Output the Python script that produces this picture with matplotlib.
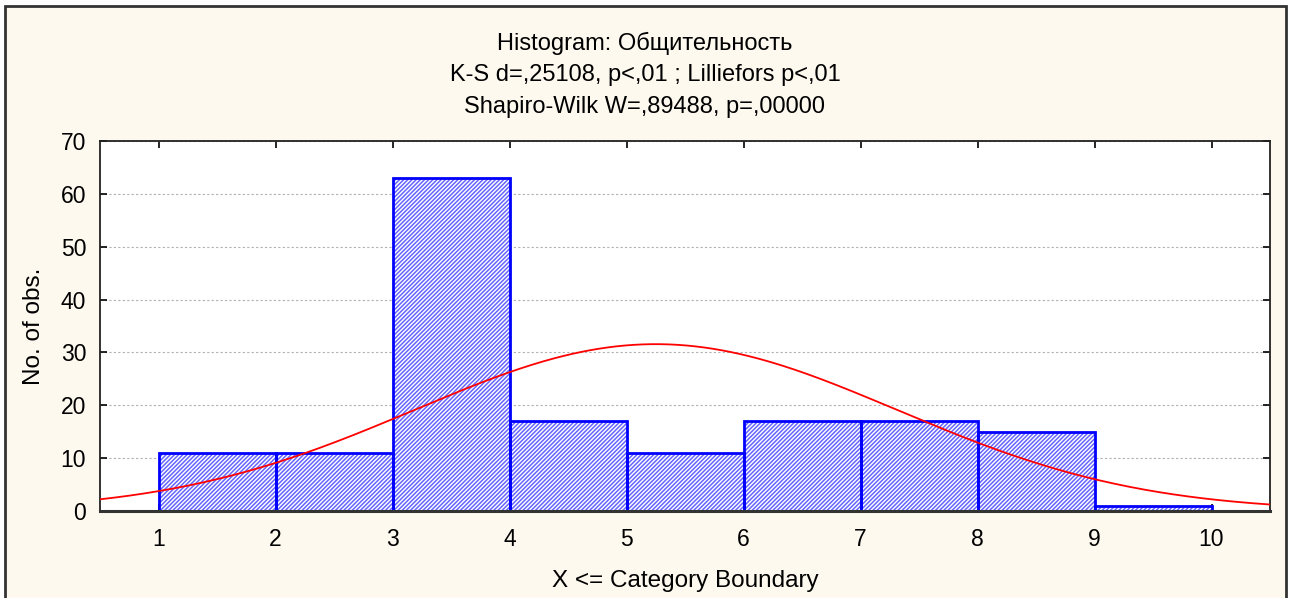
import numpy as np
import matplotlib
matplotlib.use("Agg")
import matplotlib.pyplot as plt
from matplotlib.patches import Rectangle

plt.rcParams['font.family'] = ['Liberation Sans', 'DejaVu Sans']
plt.rcParams['hatch.linewidth'] = 1.1

# Histogram data (bin edges 1..10, counts per bin)
bin_left = [1, 2, 3, 4, 5, 6, 7, 8, 9]
counts = [11, 11, 63, 17, 11, 17, 17, 15, 1]
x_ticks = [1, 2, 3, 4, 5, 6, 7, 8, 9, 10]
y_ticks = [0, 10, 20, 30, 40, 50, 60, 70]

# Fitted normal curve parameters
fit_mean = 5.25
fit_sd = 2.06

title_lines = [
    "Histogram: Общительность",
    "K-S d=,25108, p<,01 ; Lilliefors p<,01",
    "Shapiro-Wilk W=,89488, p=,00000",
]

W, H = 1292, 598
fig = plt.figure(figsize=(W / 100, H / 100), dpi=100, facecolor='white')

# cream panel with dark frame
fig.patches.append(Rectangle((5 / W, -0.05), 1281 / W, 1.05 - 6 / H,
                             transform=fig.transFigure, facecolor='#FEF9EF',
                             edgecolor='#333333', linewidth=2, zorder=-5))

ax = fig.add_axes([100 / W, (H - 511) / H, 1170 / W, 370 / H])
ax.set_facecolor('white')

n = sum(counts)
# hatched fill, then solid blue outline on top
ax.bar(bin_left, counts, width=1, align='edge', color='white',
       edgecolor='#6666ff', hatch='////////', linewidth=0, zorder=2)
ax.bar(bin_left, counts, width=1, align='edge', fill=False,
       edgecolor='#0000FF', linewidth=2.0, zorder=2.5)

xs = np.linspace(0.5, 10.5, 400)
ys = n * 1.0 * np.exp(-0.5 * ((xs - fit_mean) / fit_sd) ** 2) / (fit_sd * np.sqrt(2 * np.pi))
ax.plot(xs, ys, color='red', linewidth=1.3, zorder=3)

ax.set_xlim(0.5, 10.5)
ax.set_ylim(0, 70)
ax.set_xticks(x_ticks)
ax.set_yticks(y_ticks)
ax.yaxis.grid(True, linestyle=(0, (2, 2)), color='#b0b0b0', linewidth=0.8, zorder=1)
ax.set_axisbelow(True)
ax.tick_params(direction='in', length=5, width=1.2, top=True, right=True,
               labelsize=16.5, colors='black')
ax.tick_params(axis='x', pad=12)
ax.tick_params(axis='y', pad=10)
for s in ax.spines.values():
    s.set_linewidth(1.3)
    s.set_color('#222222')
ax.spines['bottom'].set_linewidth(2.2)
ax.spines['bottom'].set_color('#333333')

ax.set_xlabel("X <= Category Boundary", fontsize=17.5, labelpad=14)
ax.set_ylabel("No. of obs.", fontsize=17.5, labelpad=11)

for i, line in enumerate(title_lines):
    fig.text(645 / W, 1 - (43 + 32 * i) / H, line, ha='center', va='center', fontsize=17)

fig.savefig("out.png", dpi=100)
